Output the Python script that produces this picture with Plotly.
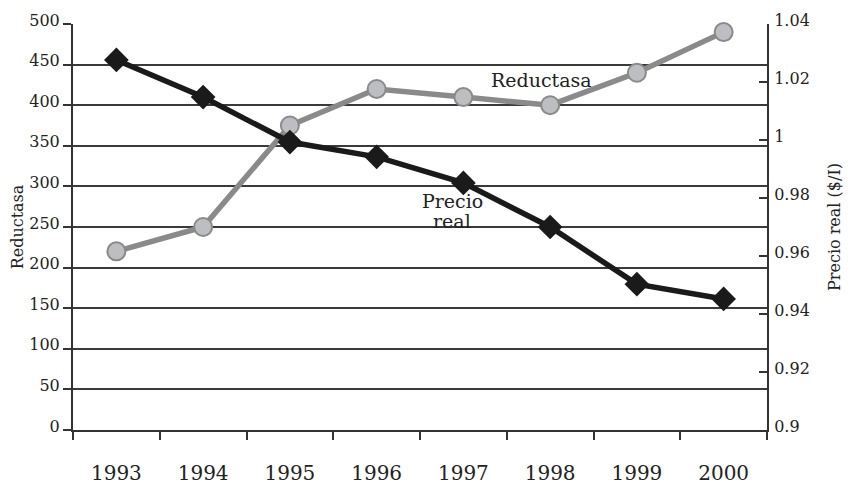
import plotly.graph_objects as go

years = [1993, 1994, 1995, 1996, 1997, 1998, 1999, 2000]
reductasa = [220, 250, 375, 420, 410, 400, 440, 490]
precio_real = [1.0276, 1.0148, 0.9993, 0.9942, 0.9852, 0.970, 0.9503, 0.9452]

left_ticks = [0, 50, 100, 150, 200, 250, 300, 350, 400, 450, 500]
right_ticks = [0.9, 0.92, 0.94, 0.96, 0.98, 1.0, 1.02, 1.04]
right_labels = ["0.9", "0.92", "0.94", "0.96", "0.98", "1", "1.02", "1.04"]

FONT = "DejaVu Serif"
AX = "#333333"
TXT = "#222222"

boundaries = [y - 0.5 for y in years] + [years[-1] + 0.5]

fig = go.Figure()
fig.add_trace(go.Scatter(
    x=years, y=reductasa, name="Reductasa", mode="lines+markers",
    line=dict(color="#8a8a8a", width=5.5),
    marker=dict(symbol="circle", size=18, color="#bdbec2",
                line=dict(color="#8a8a8a", width=2)),
    yaxis="y", showlegend=False, cliponaxis=False))
fig.add_trace(go.Scatter(
    x=years, y=precio_real, name="Precio real", mode="lines+markers",
    line=dict(color="#1a1a1a", width=5.5),
    marker=dict(symbol="diamond", size=19, color="#1a1a1a"),
    xaxis="x", yaxis="y2", showlegend=False, cliponaxis=False))

fig.add_annotation(x=1997.9, y=431, xref="x", yref="y", text="Reductasa",
                   showarrow=False,
                   font=dict(family=FONT, size=19, color=TXT))
fig.add_annotation(x=1996.87, y=282, xref="x", yref="y", text="Precio",
                   showarrow=False,
                   font=dict(family=FONT, size=19, color=TXT))
fig.add_annotation(x=1996.87, y=257, xref="x", yref="y", text="real",
                   showarrow=False,
                   font=dict(family=FONT, size=19, color=TXT))

# page body has an 8px margin, so the figure is shrunk by 8px to compensate
fig.update_layout(
    width=843, height=477,
    margin=dict(l=65, r=84, t=16, b=55),
    paper_bgcolor="white", plot_bgcolor="white",
    font=dict(family=FONT, size=16, color=TXT),
    xaxis=dict(range=[years[0] - 0.5, years[-1] + 0.5], tickvals=years,
               ticktext=[str(y) for y in years], ticks="", tickangle=0,
               showline=True, linecolor=AX, linewidth=2,
               showgrid=False, zeroline=False, automargin=False,
               minor=dict(tickvals=boundaries, ticks="outside", ticklen=8,
                          tickwidth=2, tickcolor=AX, showgrid=False),
               tickfont=dict(family=FONT, size=20, color=TXT),
               ticklabelstandoff=24),
    yaxis=dict(range=[0, 500], tickvals=left_ticks, ticks="outside",
               ticklen=8, tickwidth=2, tickcolor=AX, showline=True,
               linecolor=AX, linewidth=2, showgrid=True, gridcolor="#3a3a3a",
               gridwidth=1.8, zeroline=False, ticklabelshift=-4,
               ticklabelstandoff=0, automargin=False,
               title=dict(text="Reductasa", font=dict(family=FONT, size=16),
                          standoff=6),
               tickfont=dict(family=FONT, size=16, color=TXT)),
    yaxis2=dict(range=[0.9, 1.04], tickvals=right_ticks, ticktext=right_labels,
                overlaying="y", side="right", ticks="inside", ticklen=8,
                tickwidth=2, tickcolor=AX, showline=True, linecolor=AX,
                linewidth=2, showgrid=False, zeroline=False,
                ticklabelshift=-4, ticklabelstandoff=2, automargin=False,
                title=dict(text="Precio real ($/I)", font=dict(family=FONT, size=16),
                           standoff=20),
                tickfont=dict(family=FONT, size=16, color=TXT)),
)

fig.write_html("out.html")
